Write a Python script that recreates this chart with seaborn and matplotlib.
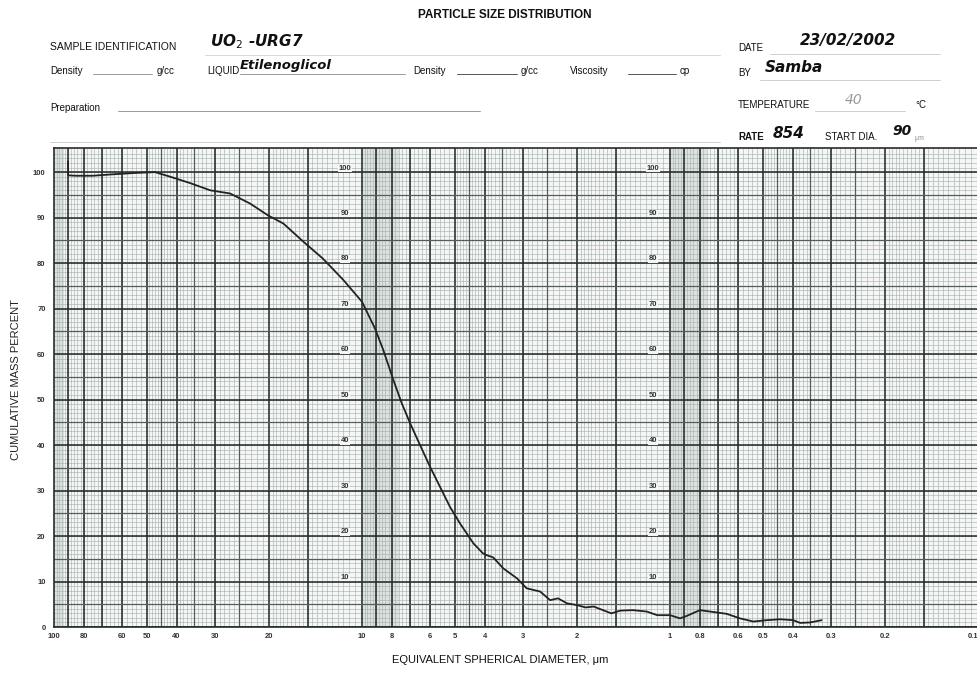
import numpy as np
import pandas as pd
import matplotlib
matplotlib.use("Agg")
import matplotlib.pyplot as plt
from matplotlib.lines import Line2D
from matplotlib.ticker import NullLocator
import seaborn as sns

# ---------------- data ----------------
diameter_um = [90, 90, 85, 75, 65, 55, 47, 42, 36.2, 31.1, 26.8, 23.1, 20.2, 18.0,
               15.5, 13.4, 11.5, 10.0, 9.07, 8.53, 7.91, 7.43, 6.98, 6.48, 6.01,
               5.58, 5.18, 4.81, 4.35, 4.05, 3.94, 3.75, 3.48, 3.14, 2.92, 2.64,
               2.45, 2.31, 2.16, 2.0, 1.88, 1.77, 1.65, 1.55, 1.45, 1.32, 1.19,
               1.10, 1.0, 0.928, 0.885, 0.80, 0.742, 0.655, 0.593, 0.536, 0.486,
               0.439, 0.398, 0.378, 0.351, 0.322]
cumulative_mass_pct = [102.4, 99.3, 99.2, 99.2, 99.5, 99.8, 100.0, 99.0, 97.6, 96.0,
                       95.3, 93.1, 90.5, 88.7, 84.7, 81.0, 76.3, 71.5, 65.6, 60.9,
                       54.3, 49.2, 44.8, 40.0, 35.2, 30.8, 26.4, 22.8, 18.4, 16.2,
                       15.8, 15.3, 12.9, 10.7, 8.5, 7.8, 5.9, 6.3, 5.2, 4.8, 4.3,
                       4.5, 3.7, 3.0, 3.6, 3.7, 3.4, 2.6, 2.6, 1.9, 2.4, 3.7, 3.4,
                       2.9, 1.9, 1.2, 1.5, 1.7, 1.5, 0.9, 1.0, 1.5]

y_tick_values = [0, 10, 20, 30, 40, 50, 60, 70, 80, 90, 100]
y_tick_labels = ["0", "10", "20", "30", "40", "50", "60", "70", "80", "90", "100"]
x_tick_values = [100, 80, 60, 50, 40, 30, 20, 10, 8, 6, 5, 4, 3, 2,
                 1, 0.8, 0.6, 0.5, 0.4, 0.3, 0.2, 0.1]
x_tick_labels = ["100", "80", "60", "50", "40", "30", "20", "10", "8", "6", "5", "4",
                 "3", "2", "1", "0.8", "0.6", "0.5", "0.4", "0.3", "0.2", "0.1"]
inner_label_values = [100, 90, 80, 70, 60, 50, 40, 30, 20, 10]
inner_label_columns = [10, 1]

df = pd.DataFrame({"diameter": diameter_um, "mass": cumulative_mass_pct})

# ---------------- style ----------------
sns.set_theme(style="white")
plt.rcParams["font.family"] = ["Liberation Sans Narrow", "Liberation Sans", "DejaVu Sans"]

W, H = 978, 677
fig = plt.figure(figsize=(W / 100, H / 100), dpi=100)
fig.patch.set_facecolor("white")


def fx(x):
    return x / W


def fy(y):
    return 1 - y / H


ax = fig.add_axes([fx(54), fy(627), 924 / W, 479 / H])
ax.set_xscale("log")
ax.set_xlim(100, 0.1)
ax.set_ylim(0, 105.3)
ax.set_facecolor("#f4f7f6")

# ---------------- graph paper ----------------
dark = "#262c2a"
mid = "#545d5a"
light = "#a3adaa"
bands = [(100, 93), (10, 7.6), (1, 0.76)]
for a, b in bands:
    ax.axvspan(b, a, color="#dce2e0", lw=0, zorder=0)

decade_bases = [10, 1, 0.1]
thick_m = [1, 1.5, 2, 3, 4, 5, 6, 7, 8, 9]
med_m = [2.5, 3.5, 4.5]
thin_m = np.concatenate([np.arange(1.05, 2.0, 0.05), np.arange(2.1, 5.0, 0.1),
                         np.arange(5.2, 10, 0.2)])
for b in decade_bases:
    ax.vlines([b * m for m in thin_m], 0, 105.3, color=light, lw=0.4, zorder=1)
    ax.vlines([b * m for m in med_m], 0, 105.3, color=mid, lw=0.9, zorder=2)
    ax.vlines([b * m for m in thick_m], 0, 105.3, color=dark, lw=1.15, zorder=2)

ax.hlines(np.arange(1, 105, 1), 100, 0.1, color=light, lw=0.4, zorder=1)
ax.hlines(np.arange(5, 105, 10), 100, 0.1, color=mid, lw=0.9, zorder=2)
ax.hlines(np.arange(0, 101, 10), 100, 0.1, color=dark, lw=1.15, zorder=2)

for sp in ax.spines.values():
    sp.set_color(dark)
    sp.set_linewidth(1.2)

# inner percentage columns
for c in inner_label_columns:
    for v in inner_label_values:
        ax.text(c * 1.135, v + 0.9, str(v), fontsize=5.5, ha="center", va="center",
                color="#333", fontweight="bold", zorder=4,
                bbox=dict(boxstyle="square,pad=0.05", fc="#f4f7f6", ec="none"))

# ---------------- the trace ----------------
sns.lineplot(data=df, x="diameter", y="mass", ax=ax, sort=False, estimator=None,
             color="#222222", lw=1.3, zorder=5)

ax.set_xticks(x_tick_values, x_tick_labels)
ax.xaxis.set_minor_locator(NullLocator())
ax.set_yticks(y_tick_values, y_tick_labels)
ax.tick_params(axis="both", length=0, labelsize=5.5, colors="#333")
ax.tick_params(axis="x", pad=4)
ax.tick_params(axis="y", pad=6)
for t in ax.get_xticklabels() + ax.get_yticklabels():
    t.set_fontweight("bold")
ax.get_xticklabels()[-1].set_horizontalalignment("right")
ax.set_xlabel("")
ax.set_ylabel("")

# axis titles
fig.text(fx(16), fy(380), "CUMULATIVE MASS PERCENT", rotation=90, ha="center",
         va="center", fontsize=8, color="#222")
fig.text(fx(500), fy(660), "EQUIVALENT SPHERICAL DIAMETER, μm", ha="center",
         va="center", fontsize=8, color="#111")

# ---------------- form header ----------------
hand = dict(family=["DejaVu Sans"], fontweight="heavy", fontstyle="italic", color="#111")


def uline(x0, x1, y, color="#9a9a9a", lw=0.7):
    fig.add_artist(Line2D([fx(x0), fx(x1)], [fy(y), fy(y)], color=color, lw=lw))


fig.text(fx(505), fy(15), "PARTICLE SIZE DISTRIBUTION", ha="center", va="center",
         fontsize=8.5, fontweight="bold", color="#111")

fig.text(fx(50), fy(47), "SAMPLE IDENTIFICATION", ha="left", va="center",
         fontsize=7.5, color="#111")
fig.text(fx(210), fy(42), "UO$_2$ -URG7", ha="left", va="center", fontsize=11, **hand)
uline(205, 720, 55, color="#d8d8d8")

fig.text(fx(50), fy(71), "Density", ha="left", va="center", fontsize=7, color="#111")
uline(93, 152, 74)
fig.text(fx(157), fy(71), "g/cc", ha="left", va="center", fontsize=7, color="#111")
fig.text(fx(207), fy(71), "LIQUID", ha="left", va="center", fontsize=7, color="#111")
fig.text(fx(240), fy(66), "Etilenoglicol", ha="left", va="center", fontsize=9.5,
         **hand)
uline(240, 405, 74)
fig.text(fx(413), fy(71), "Density", ha="left", va="center", fontsize=7, color="#111")
uline(457, 517, 74, color="#555")
fig.text(fx(521), fy(71), "g/cc", ha="left", va="center", fontsize=7, color="#111")
fig.text(fx(570), fy(71), "Viscosity", ha="left", va="center", fontsize=7, color="#111")
uline(628, 676, 74, color="#555")
fig.text(fx(680), fy(71), "cp", ha="left", va="center", fontsize=7, color="#111")

fig.text(fx(50), fy(108), "Preparation", ha="left", va="center", fontsize=7,
         color="#111")
uline(118, 480, 111)
uline(50, 720, 142, color="#cfcfcf")

fig.text(fx(738), fy(48), "DATE", ha="left", va="center", fontsize=7, color="#111")
fig.text(fx(800), fy(41), "23/02/2002", ha="left", va="center", fontsize=11, **hand)
uline(770, 940, 54, color="#d0d0d0")
fig.text(fx(738), fy(73), "BY", ha="left", va="center", fontsize=7, color="#111")
fig.text(fx(765), fy(68), "Samba", ha="left", va="center", fontsize=11, **hand)
uline(760, 940, 80, color="#d0d0d0")
fig.text(fx(738), fy(105), "TEMPERATURE", ha="left", va="center", fontsize=7,
         color="#111")
fig.text(fx(845), fy(100), "40", ha="left", va="center", fontsize=10,
         family=["DejaVu Sans"], fontstyle="italic", color="#9a9a9a")
uline(815, 905, 111, color="#d0d0d0")
fig.text(fx(915), fy(105), "°C", ha="left", va="center", fontsize=7, color="#111")
fig.text(fx(738), fy(137), "RATE", ha="left", va="center", fontsize=7,
         fontweight="bold", color="#111")
fig.text(fx(773), fy(133), "854", ha="left", va="center", fontsize=11, **hand)
fig.text(fx(825), fy(137), "START DIA.", ha="left", va="center", fontsize=7,
         color="#111")
fig.text(fx(892), fy(131), "90", ha="left", va="center", fontsize=10, **hand)
fig.text(fx(915), fy(139), "μm", ha="left", va="center", fontsize=5, color="#888")

fig.savefig("out.png", dpi=100, facecolor="white")
